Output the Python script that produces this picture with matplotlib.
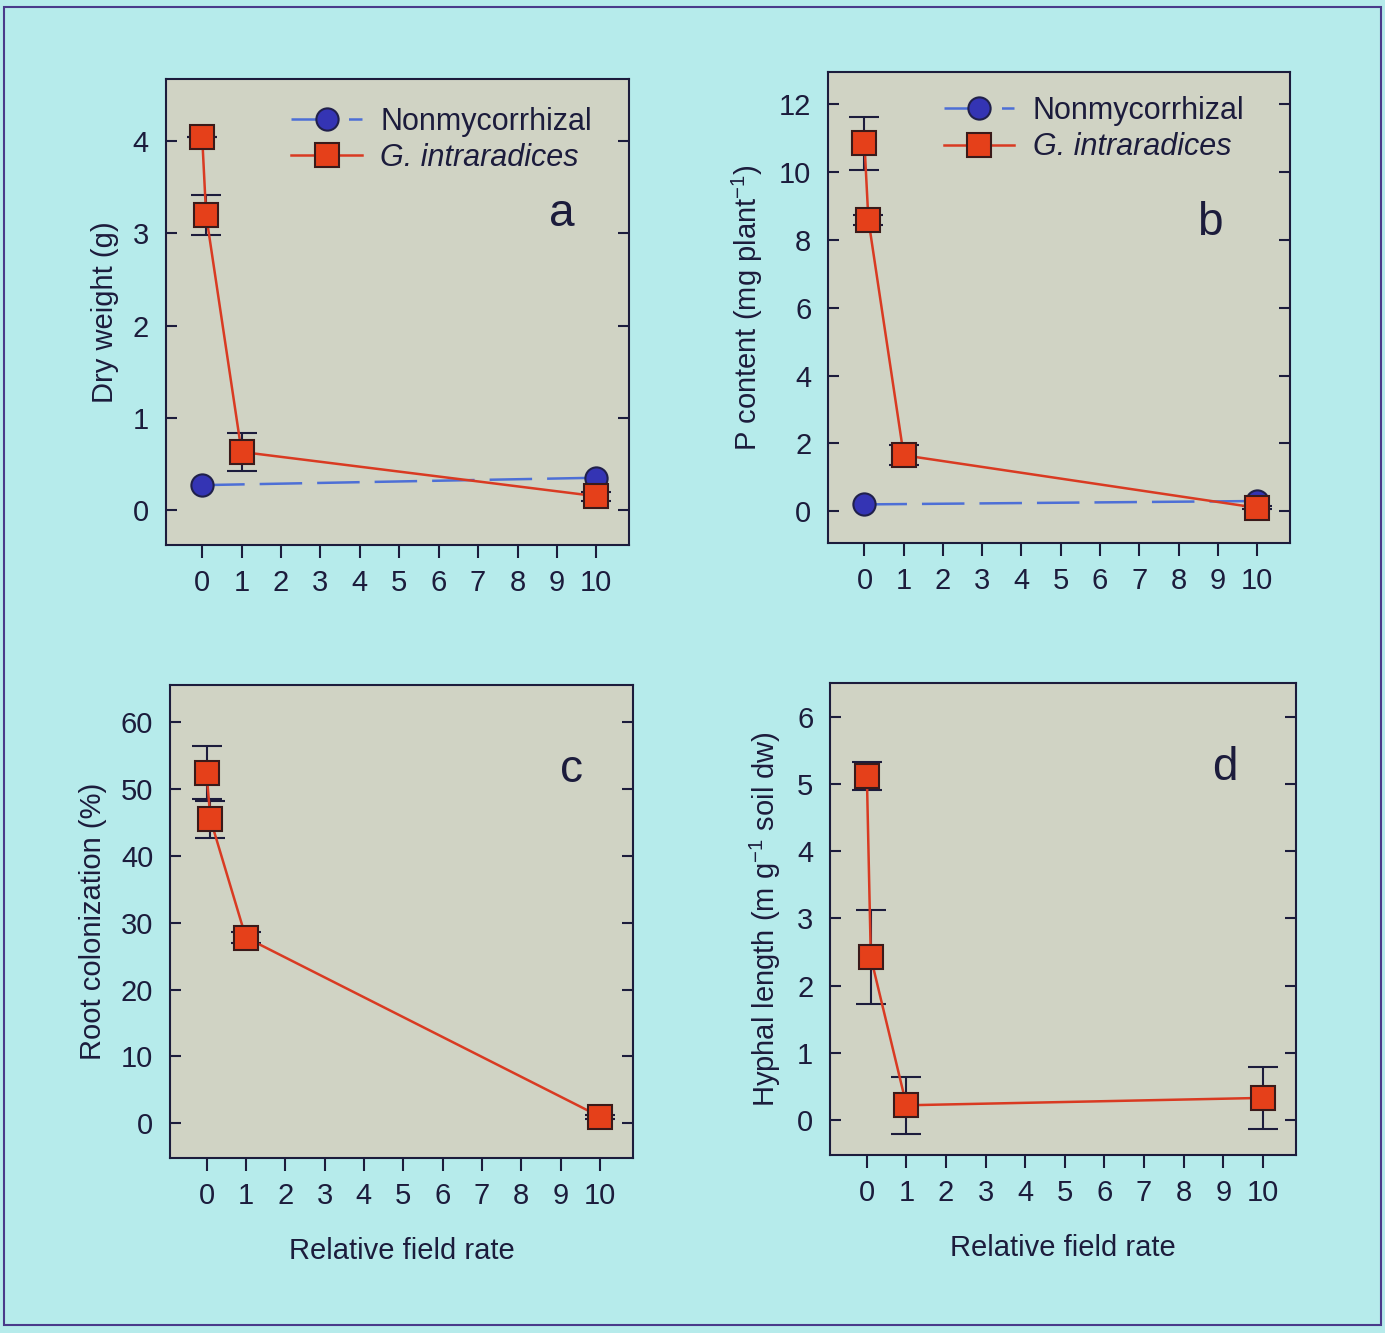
import numpy as np
import matplotlib
matplotlib.use("Agg")
import matplotlib.pyplot as plt
from matplotlib.patches import Rectangle

plt.rcParams['font.family'] = ['Liberation Sans', 'DejaVu Sans']

# relative field rate (second control point drawn just right of zero)
x_gi = [0, 0.1, 1, 10]
x_nm = [0, 10]

# panel a - dry weight (g)
dw_gi = [4.05, 3.2, 0.63, 0.15]
dw_gi_err = [0.0, 0.22, 0.21, 0.05]
dw_nm = [0.27, 0.35]

# panel b - P content (mg plant-1)
p_gi = [10.85, 8.6, 1.65, 0.1]
p_gi_err = [0.78, 0.15, 0.3, 0.05]
p_nm = [0.2, 0.3]

# panel c - root colonization (%)
col_gi = [52.5, 45.5, 27.8, 1.0]
col_gi_err = [4.0, 2.8, 0.8, 0.3]

# panel d - hyphal length (m g-1 soil dw)
hy_gi = [5.12, 2.42, 0.22, 0.33]
hy_gi_err = [0.21, 0.7, 0.42, 0.46]

xticks = list(range(0, 11))

bg = '#b6ebeb'
face = '#d0d3c4'
ink = '#1c1c3c'
red = '#d93a22'
sq_fill = '#e5401a'
blue_line = '#4d6fd6'
circ_fill = '#3434b4'
fs = 21

fig = plt.figure(figsize=(13.85, 13.33), dpi=100)
fig.patch.set_facecolor(bg)
fig.add_artist(Rectangle((0.003, 0.006), 0.994, 0.989, transform=fig.transFigure,
                         fill=False, edgecolor='#4a3a8a', linewidth=1.5))

ax_a = fig.add_axes([0.1195, 0.5911, 0.3350, 0.3500])
ax_b = fig.add_axes([0.5978, 0.5926, 0.3336, 0.3533])
ax_c = fig.add_axes([0.1227, 0.1313, 0.3343, 0.3548])
ax_d = fig.add_axes([0.5993, 0.1335, 0.3365, 0.3541])


def style(ax, ylim, yticks, ylabel):
    ax.set_facecolor(face)
    ax.set_xlim(-0.93, 10.84)
    ax.set_ylim(*ylim)
    ax.set_xticks(xticks)
    ax.set_yticks(yticks)
    for s in ax.spines.values():
        s.set_color(ink)
        s.set_linewidth(1.5)
    ax.tick_params(axis='x', direction='out', length=9, width=1.5, color=ink,
                   labelsize=fs, labelcolor=ink, pad=8)
    ax.tick_params(axis='y', direction='in', length=8, width=1.5, color=ink,
                   labelsize=fs, labelcolor=ink, pad=12, right=True)
    ax.set_ylabel(ylabel, fontsize=fs, color=ink, labelpad=10)


def draw_gi(ax, y, err):
    ax.errorbar(x_gi, y, yerr=err, fmt='none', ecolor=ink, elinewidth=1.5,
                capsize=11, capthick=1.5, zorder=3)
    ax.plot(x_gi, y, color=red, lw=1.8, marker='s', ms=17, mfc=sq_fill,
            mec='#3a1a1a', mew=1.5, zorder=4, label='G. intraradices')


def draw_nm(ax, y):
    line, = ax.plot(x_nm, y, color=blue_line, lw=1.8, marker='o', ms=16,
                    mfc=circ_fill, mec='#20204a', mew=1.5, zorder=2,
                    label='Nonmycorrhizal')
    line.set_dashes((17, 6))
    return line


def letter(ax, s, x, y):
    ax.text(x, y, s, transform=ax.transAxes, fontsize=33, color=ink,
            ha='center', va='center')


# a
style(ax_a, (-0.38, 4.68), [0, 1, 2, 3, 4], 'Dry weight (g)')
draw_nm(ax_a, dw_nm)
draw_gi(ax_a, dw_gi, dw_gi_err)
letter(ax_a, 'a', 0.855, 0.71)

# b
style(ax_b, (-0.94, 12.95), [0, 2, 4, 6, 8, 10, 12],
      'P content (mg plant$^{\\mathregular{-1}}$)')
draw_nm(ax_b, p_nm)
draw_gi(ax_b, p_gi, p_gi_err)
letter(ax_b, 'b', 0.827, 0.68)

# c
style(ax_c, (-5.2, 65.6), [0, 10, 20, 30, 40, 50, 60], 'Root colonization (%)')
draw_gi(ax_c, col_gi, col_gi_err)
letter(ax_c, 'c', 0.868, 0.82)
ax_c.set_xlabel('Relative field rate', fontsize=fs, color=ink, labelpad=20)

# d
style(ax_d, (-0.52, 6.5), [0, 1, 2, 3, 4, 5, 6],
      'Hyphal length (m g$^{\\mathregular{-1}}$ soil dw)')
draw_gi(ax_d, hy_gi, hy_gi_err)
letter(ax_d, 'd', 0.848, 0.82)
ax_d.set_xlabel('Relative field rate', fontsize=fs, color=ink, labelpad=20)

# legends in the two top panels
for ax, anchor in [(ax_a, (0.245, 0.965)), (ax_b, (0.225, 0.975))]:
    h, l = ax.get_legend_handles_labels()
    leg = ax.legend(h, l, loc='upper left', bbox_to_anchor=anchor, frameon=False,
                    fontsize=22, handlelength=2.3, handletextpad=0.6,
                    labelspacing=0.2, borderaxespad=0)
    for t in leg.get_texts():
        t.set_color(ink)
    leg.get_texts()[1].set_style('italic')

plt.savefig('out.png', dpi=100, facecolor=bg)
